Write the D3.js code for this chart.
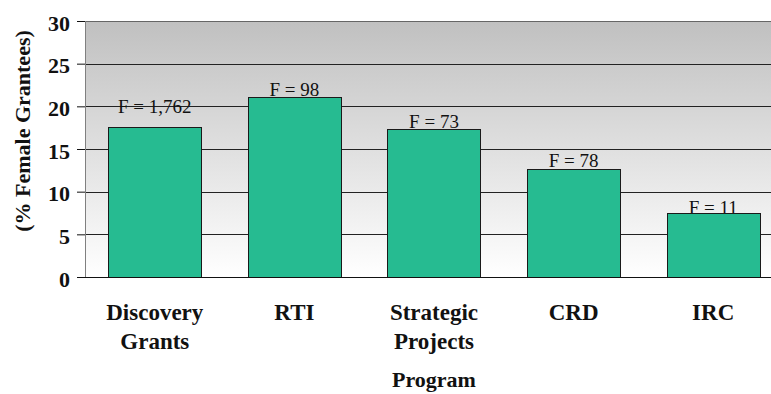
<!DOCTYPE html>
<html><head><meta charset="utf-8">
<script src="https://cdn.jsdelivr.net/npm/d3@7/dist/d3.min.js"></script>
<style>
html,body{margin:0;padding:0;background:#fff;}
svg{display:block;}
svg text{font-family:"Times New Roman",Times,"Liberation Serif","DejaVu Serif",serif;}
</style></head>
<body>
<svg id="chart" width="771" height="394"></svg>
<script>
const categories = [["Discovery","Grants"],["RTI"],["Strategic","Projects"],["CRD"],["IRC"]];
const values = [17.6, 21.1, 17.3, 12.6, 7.5];
const labels = ["F = 1,762","F = 98","F = 73","F = 78","F = 11"];
const labelAt = [20.0, 22.0, 18.2, 13.7, 8.1];
const yTicks = [0,5,10,15,20,25,30];

const svg = d3.select("#chart");
const pL = 85, pR = 783, pT = 21, pB = 277;
const keys = categories.map(c => c.join(" "));
const x = d3.scaleBand().domain(keys).range([pL, pR]).paddingInner(1/3).paddingOuter(1/6);
const y = d3.scaleLinear().domain([0,30]).range([pB, pT]);

const defs = svg.append("defs");
const g = defs.append("linearGradient").attr("id","bg").attr("x1",0).attr("y1",0).attr("x2",0).attr("y2",1);
g.append("stop").attr("offset","0%").attr("stop-color","#c0c0c0");
g.append("stop").attr("offset","100%").attr("stop-color","#ffffff");

svg.append("rect").attr("x",pL).attr("y",pT).attr("width",pR-pL).attr("height",pB-pT)
  .attr("fill","url(#bg)");

// gridlines
svg.append("g").selectAll("line").data(yTicks.filter(d=>d>0 && d<30)).join("line")
  .attr("x1",pL).attr("x2",pR).attr("y1",d=>Math.round(y(d))+0.5).attr("y2",d=>Math.round(y(d))+0.5)
  .attr("stroke","#222").attr("stroke-width",1);
// top border and left border
svg.append("line").attr("x1",pL).attr("x2",pR).attr("y1",y(30)+0.5).attr("y2",y(30)+0.5)
  .attr("stroke","#666").attr("stroke-width",1);
svg.append("line").attr("x1",pL+0.5).attr("x2",pL+0.5).attr("y1",pT).attr("y2",pB)
  .attr("stroke","#808080").attr("stroke-width",1);

// value labels (drawn before bars so bars can overlap)
svg.append("g").selectAll("text").data(labels).join("text")
  .attr("x",(d,i)=>x(keys[i])+x.bandwidth()/2)
  .attr("y",(d,i)=>y(labelAt[i])+6.5)
  .attr("text-anchor","middle").attr("font-size",19).attr("fill","#111")
  .text(d=>d);

// bars
svg.append("g").selectAll("rect").data(values).join("rect")
  .attr("x",(d,i)=>Math.round(x(keys[i]))+0.5)
  .attr("y",d=>Math.round(y(d))+0.5)
  .attr("width",Math.round(x.bandwidth()))
  .attr("height",d=>pB-Math.round(y(d)))
  .attr("fill","#26bb91").attr("stroke","#1a1a1a").attr("stroke-width",1);

// y axis
const yAxis = d3.axisLeft(y).tickValues(yTicks).tickSize(8).tickFormat(d3.format("d"));
const ya = svg.append("g").attr("transform",`translate(${pL},0)`).call(yAxis);
ya.attr("font-family",null).attr("font-size",null);
ya.select(".domain").remove();
ya.selectAll(".tick line").attr("stroke","#111");
ya.selectAll(".tick text").attr("x",-15).attr("dy","0.42em")
  .attr("font-size",22).attr("font-weight","bold").attr("fill","#111");

// baseline
svg.append("line").attr("x1",77).attr("x2",771).attr("y1",pB+0.5).attr("y2",pB+0.5)
  .attr("stroke","#111").attr("stroke-width",1.2);

// x category labels
const xl = svg.append("g").selectAll("text").data(categories).join("text")
  .attr("x",(d,i)=>x(keys[i])+x.bandwidth()/2)
  .attr("y",320)
  .attr("text-anchor","middle").attr("font-size",23).attr("font-weight","bold").attr("fill","#111");
xl.each(function(d){
  const t = d3.select(this);
  d.forEach((line,j)=>{
    t.append("tspan").attr("x",t.attr("x")).attr("dy", j===0?0:29).text(line);
  });
});

// axis titles
svg.append("text").attr("x",(pL+pR)/2).attr("y",387).attr("text-anchor","middle")
  .attr("font-size",22).attr("font-weight","bold").attr("fill","#111").text("Program");
svg.append("text").attr("transform","translate(30,131) rotate(-90)").attr("text-anchor","middle")
  .attr("font-size",22).attr("font-weight","bold").attr("fill","#111").text("(% Female Grantees)");
</script>
</body></html>
